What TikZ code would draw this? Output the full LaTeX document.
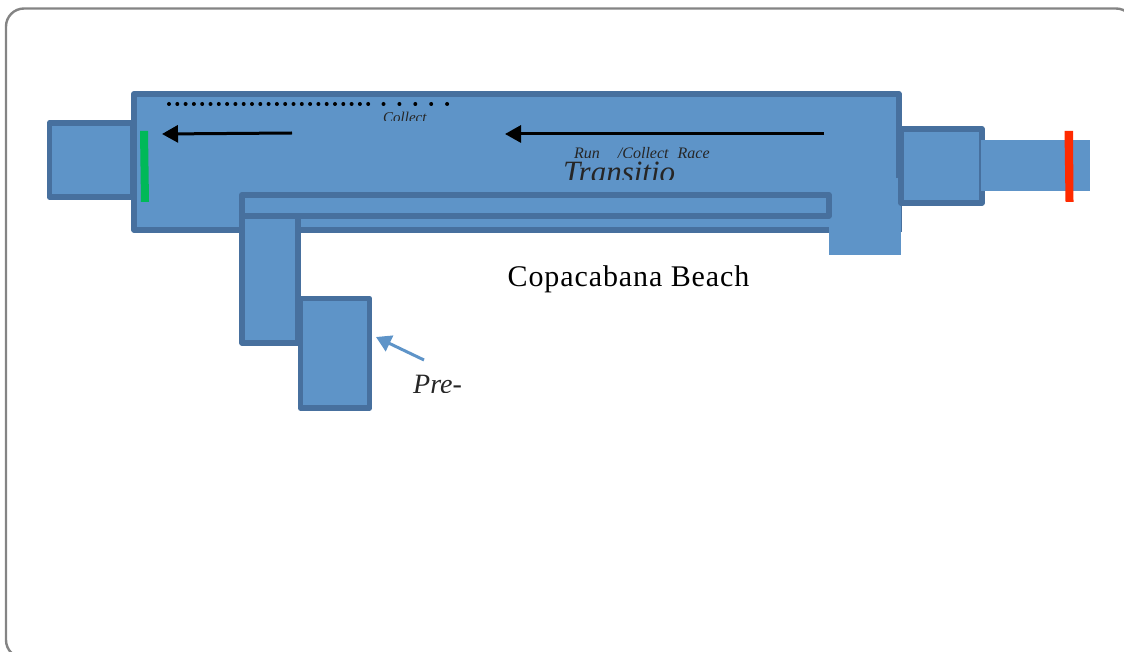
\documentclass[tikz,border=0pt]{standalone}
\usepackage{fontspec}
\setmainfont{Liberation Serif}
\newfontfamily\beachfont[LetterSpace=3]{Liberation Serif}
\usetikzlibrary{arrows.meta}
\definecolor{boxfill}{HTML}{5E94C8}
\definecolor{boxline}{HTML}{47709E}
\definecolor{framegray}{HTML}{848484}
\definecolor{startgreen}{HTML}{00B958}
\definecolor{finishred}{HTML}{FF2A00}
\tikzset{
  zone/.style={draw=boxline,fill=boxfill,line width=5.8pt,line join=round},
  plainzone/.style={fill=boxfill},
  runarrow/.style={draw=black,line width=3pt,-{Triangle[length=16pt,width=17pt]}},
  bluearrow/.style={draw=boxfill,line width=3pt,-{Triangle[length=15pt,width=17pt]}},
  hand/.style={inner sep=0pt,anchor=base west,text=black!85},
}
\begin{document}
\begin{tikzpicture}[x=1pt,y=-1pt]
\useasboundingbox (0,0) rectangle (1124,652);
\clip (0,0) rectangle (1124,652);
\draw[draw=framegray,line width=2.4pt,rounded corners=18pt] (6,8.5) rectangle (1134,658);
% zones
\draw[zone] (49.5,123) rectangle (133,197);
\draw[zone] (134,94) rectangle (899,230);
\fill[plainzone] (829,178) rectangle (901,255);
\draw[boxline,line width=1.2pt] (901.6,178) -- (901.6,232);
\draw[zone] (242,195) rectangle (829,216);
\draw[zone] (242,216) rectangle (298,343);
\draw[zone] (300.5,298.5) rectangle (369.5,408);
\draw[zone] (901,129) rectangle (982,203);
\fill[plainzone] (981,140) rectangle (1090,191);
% start and finish lines
\fill[startgreen] (140,131) -- (148,131) -- (149,202) -- (141,202) -- cycle;
\fill[finishred] (1064.5,131) -- (1073,131) -- (1073.5,202) -- (1065.5,202) -- cycle;
% dots
\draw[line width=4pt,line cap=round,dash pattern=on 0pt off 8.3pt] (169,104) -- (369,104);
\draw[line width=4pt,line cap=round,dash pattern=on 0pt off 15.9pt] (383.5,104) -- (448,104);
% arrows
\coordinate (a1s) at (292,133);
\coordinate (a1e) at (162,134);
\coordinate (a2s) at (824,134);
\coordinate (a2e) at (505,134);
\coordinate (a3s) at (424,360);
\coordinate (a3e) at (376,337);
\draw[runarrow] (a1s) -- (a1e);
\draw[runarrow] (a2s) -- (a2e);
\draw[bluearrow] (a3s) -- (a3e);
% clipped labels
\begin{scope}
\clip (370,108) rectangle (440,120.5);
\node[hand,font=\itshape\fontsize{15}{15}\selectfont] (collect) at (383,123) {Collect};
\end{scope}
\begin{scope}
\clip (560,143) rectangle (730,157.5);
\node[hand,font=\itshape\fontsize{16}{16}\selectfont] (runrace) at (574,158.5) {Run~\hspace{14pt}/Collect~\hspace{5pt}Race};
\end{scope}
\begin{scope}
\clip (555,158) rectangle (690,180);
\node[hand,font=\itshape\fontsize{31}{31}\selectfont] (transitio) at (563,183) {Transitio};
\end{scope}
\begin{scope}
\clip (405,370) rectangle (470,392);
\node[hand,font=\itshape\fontsize{28}{28}\selectfont] (pre) at (413,393) {Pre-};
\end{scope}
\node[font=\beachfont\fontsize{30}{30}\selectfont,inner sep=0pt,anchor=base] (beach) at (628.5,287) {Copacabana Beach};
\end{tikzpicture}
\end{document}
